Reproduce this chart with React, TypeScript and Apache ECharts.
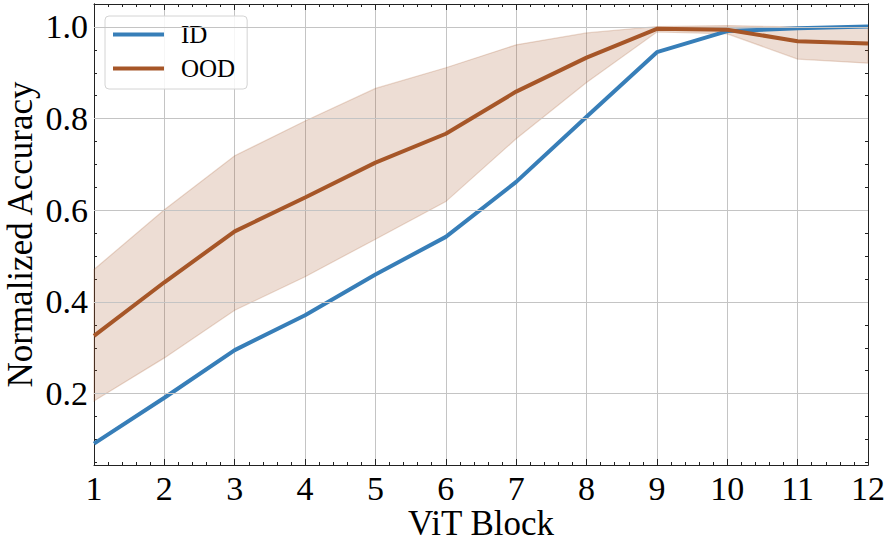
import React, { useEffect, useRef } from "react";
import * as echarts from "echarts";

const blocks = [1, 2, 3, 4, 5, 6, 7, 8, 9, 10, 11, 12];
const idAcc = [0.091, 0.191, 0.295, 0.371, 0.46, 0.542, 0.662, 0.804, 0.945, 0.991, 0.997, 1.001];
const oodAcc = [0.326, 0.443, 0.554, 0.628, 0.704, 0.767, 0.859, 0.933, 0.996, 0.994, 0.969, 0.964];
const oodUpper = [0.471, 0.601, 0.719, 0.795, 0.866, 0.911, 0.961, 0.987, 1.001, 1.003, 1.0, 1.0];
const oodLower = [0.184, 0.278, 0.382, 0.455, 0.537, 0.619, 0.756, 0.879, 0.989, 0.985, 0.93, 0.921];

const yMajorTicks = [0.2, 0.4, 0.6, 0.8, 1.0];
const yMinorTicks = [0.05, 0.1, 0.15, 0.25, 0.3, 0.35, 0.45, 0.5, 0.55, 0.65, 0.7, 0.75, 0.85, 0.9, 0.95];
const Y_MIN = 0.0443;
const Y_MAX = 1.0501;

const FONT = "'Liberation Serif', 'DejaVu Serif', serif";
const ID_COLOR = "#377eb8";
const OOD_COLOR = "#a65628";
const GRID_COLOR = "#c4c4c4";
const AXIS_COLOR = "#222";

export default function App() {
  const ref = useRef<HTMLDivElement>(null);
  useEffect(() => {
    document.body.style.margin = "0";
    if (!ref.current) return;
    const chart = echarts.init(ref.current, null, { renderer: "svg" });
    const pairs = (ys: number[]) => blocks.map((x, i) => [x, ys[i]]);

    const xBase = {
      type: "value",
      min: 1,
      max: 12,
      interval: 1,
      axisLine: { show: true, onZero: false, lineStyle: { color: AXIS_COLOR, width: 1 } },
      axisTick: { show: true, inside: true, length: 6, lineStyle: { color: AXIS_COLOR } },
      minorTick: { show: true, splitNumber: 5, length: 3, lineStyle: { color: AXIS_COLOR } },
    };
    const yBase = (position: string, ticks: number[], len: number, labels: boolean) => ({
      type: "value",
      position,
      min: Y_MIN,
      max: Y_MAX,
      axisLine: { show: true, onZero: false, lineStyle: { color: AXIS_COLOR, width: 1 } },
      axisTick: { show: true, inside: true, length: len, customValues: ticks, lineStyle: { color: AXIS_COLOR } },
      axisLabel: labels
        ? {
            show: true,
            customValues: ticks,
            formatter: (v: number) => v.toFixed(1),
            fontFamily: FONT,
            fontSize: 34,
            color: "#000",
            margin: 6,
          }
        : { show: false },
      splitLine: { show: false },
    });

    chart.setOption({
      animation: false,
      backgroundColor: "#fff",
      grid: { left: 94, right: 22, top: 4, bottom: 80, containLabel: false, outerBoundsMode: "none" },
      legend: {
        data: ["ID", "OOD"],
        orient: "vertical",
        left: 105,
        top: 16,
        itemWidth: 51,
        itemHeight: 4,
        itemGap: 9,
        icon: "rect",
        padding: [6, 12, 8, 8],
        borderColor: "#d4d4d4",
        borderWidth: 1,
        borderRadius: 4,
        backgroundColor: "rgba(255,255,255,0.85)",
        textStyle: { fontFamily: FONT, fontSize: 25, color: "#000", padding: [0, 0, 0, 12] },
      },
      xAxis: [
        {
          ...xBase,
          position: "bottom",
          name: "ViT Block",
          nameLocation: "middle",
          nameMoveOverlap: false,
          nameGap: 40,
          nameTextStyle: { fontFamily: FONT, fontSize: 35, lineHeight: 36, color: "#000" },
          axisLabel: { fontFamily: FONT, fontSize: 34, color: "#000", margin: 6 },
          splitLine: { show: true, lineStyle: { color: GRID_COLOR, width: 1 } },
        },
        {
          ...xBase,
          position: "top",
          axisLabel: { show: false },
          splitLine: { show: false },
        },
      ],
      yAxis: [
        {
          ...yBase("left", yMajorTicks, 6, true),
          name: "Normalized Accuracy",
          nameLocation: "middle",
          nameMoveOverlap: false,
          nameGap: 56,
          nameTextStyle: { fontFamily: FONT, fontSize: 35, lineHeight: 36, color: "#000" },
        },
        yBase("left", yMinorTicks, 3, false),
        yBase("right", yMajorTicks, 6, false),
        yBase("right", yMinorTicks, 3, false),
      ],
      series: [
        {
          name: "band",
          type: "custom",
          data: [[blocks[0], oodLower[0], oodUpper[0]]],
          silent: true,
          z: 1,
          renderItem: (params: any, api: any) => {
            const top = blocks.map((x, i) => api.coord([x, oodUpper[i]]));
            const bottom = blocks.map((x, i) => api.coord([x, oodLower[i]])).reverse();
            return {
              type: "polygon",
              shape: { points: top.concat(bottom) },
              style: {
                fill: "rgba(166,86,40,0.2)",
                stroke: "rgba(166,86,40,0.22)",
                lineWidth: 1.2,
              },
            };
          },
          markLine: {
            silent: true,
            symbol: "none",
            label: { show: false },
            lineStyle: { color: GRID_COLOR, width: 1, type: "solid" },
            data: yMajorTicks.map((v) => ({ yAxis: v })),
          },
        },
        {
          name: "ID",
          type: "line",
          data: pairs(idAcc),
          symbol: "none",
          color: ID_COLOR,
          lineStyle: { color: ID_COLOR, width: 4 },
          z: 4,
        },
        {
          name: "OOD",
          type: "line",
          data: pairs(oodAcc),
          symbol: "none",
          color: OOD_COLOR,
          lineStyle: { color: OOD_COLOR, width: 4 },
          z: 5,
        },
      ],
    });
    return () => chart.dispose();
  }, []);
  return (
    <div
      ref={ref}
      style={{ position: "fixed", left: 0, top: 0, width: 890, height: 545 }}
    />
  );
}
